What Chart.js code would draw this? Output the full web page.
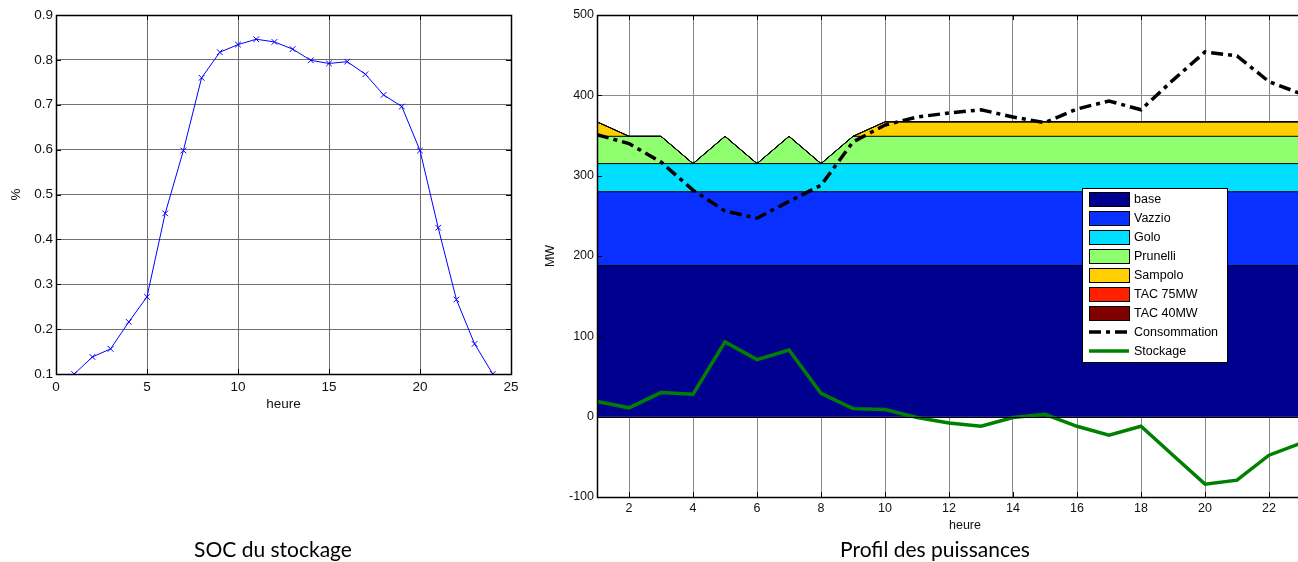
<!DOCTYPE html>
<html>
<head>
<meta charset="utf-8">
<script src="https://cdn.jsdelivr.net/npm/chart.js@4.4.1/dist/chart.umd.min.js"></script>
<style>
  body { margin: 0; width: 1298px; height: 562px; overflow: hidden; position: relative; background: #fff; }
  canvas { position: absolute; top: 0; }
  .titre { position: absolute; top: 536px; font-family: Lato, "Open Sans", sans-serif; font-size: 21px; color: #000; text-align: center; white-space: nowrap; }
</style>
</head>
<body>
<canvas id="soc" width="540" height="562" style="left:0"></canvas>
<canvas id="puiss" width="810" height="562" style="left:540px"></canvas>
<div class="titre" style="left:0; width:546px">SOC du stockage</div>
<div class="titre" style="left:735px; width:400px">Profil des puissances</div>
<script>
// heures de la journee
const heures = [1, 2, 3, 4, 5, 6, 7, 8, 9, 10, 11, 12, 13, 14, 15, 16, 17, 18, 19, 20, 21, 22, 23, 24];

// etat de charge du stockage (%)
const socValeurs = [0.100, 0.138, 0.156, 0.216, 0.272, 0.458, 0.598, 0.760, 0.817, 0.834, 0.846, 0.840, 0.824, 0.799, 0.792, 0.796, 0.768, 0.722, 0.696, 0.598, 0.426, 0.266, 0.167, 0.100];

// production empilee (MW)
const base     = [188, 188, 188, 188, 188, 188, 188, 188, 188, 188, 188, 188, 188, 188, 188, 188, 188, 188, 188, 188, 188, 188, 188, 188];
const vazzio   = [92, 92, 92, 92, 92, 92, 92, 92, 92, 92, 92, 92, 92, 92, 92, 92, 92, 92, 92, 92, 92, 92, 92, 92];
const golo     = [35, 35, 35, 35, 35, 35, 35, 35, 35, 35, 35, 35, 35, 35, 35, 35, 35, 35, 35, 35, 35, 35, 35, 35];
const prunelli = [34, 34, 34, 0, 34, 0, 34, 0, 34, 34, 34, 34, 34, 34, 34, 34, 34, 34, 34, 34, 34, 34, 34, 34];
const sampolo  = [18, 0, 0, 0, 0, 0, 0, 0, 0, 18, 18, 18, 18, 18, 18, 18, 18, 18, 18, 18, 18, 18, 18, 18];
const tac75    = [0, 0, 0, 0, 0, 0, 0, 0, 0, 0, 0, 0, 0, 0, 0, 0, 0, 0, 0, 0, 0, 0, 0, 0];
const tac40    = [0, 0, 0, 0, 0, 0, 0, 0, 0, 0, 0, 0, 0, 0, 0, 0, 0, 0, 0, 0, 0, 0, 0, 0];

const consommation = [351, 340, 317, 282, 256, 247, 268, 288, 342, 363, 373, 378, 382, 373, 366, 383, 393, 382, 419, 454, 449, 417, 402, 395];
const stockage     = [19, 11, 30, 28, 93, 71, 83, 29, 10, 9, -1, -8, -12, -1, 3, -12, -23, -12, -48, -84, -79, -48, -33, -25];

// ticks
const socTicksX = [0, 5, 10, 15, 20, 25];
const puissTicksX = [2, 4, 6, 8, 10, 12, 14, 16, 18, 20, 22, 24];

Chart.defaults.font.family = '"Liberation Sans", Arial, sans-serif';
Chart.defaults.color = '#000';

const pts = (vals) => heures.map((h, i) => ({ x: h, y: vals[i] }));

// cadre noir + petits ticks interieurs, facon matlab
const cadrePlugin = {
    id: 'cadre',
    afterDatasetsDraw(chart, args, opts) {
        const { ctx, chartArea: a, scales } = chart;
        ctx.save();
        ctx.strokeStyle = '#000';
        ctx.lineWidth = 1;
        ctx.beginPath();
        if (opts.zero) {
            const y0 = Math.round(scales.y.getPixelForValue(0)) + 0.5;
            ctx.moveTo(a.left, y0);
            ctx.lineTo(a.right, y0);
        }
        scales.x.ticks.forEach(t => {
            const x = Math.round(scales.x.getPixelForValue(t.value)) + 0.5;
            ctx.moveTo(x, a.bottom); ctx.lineTo(x, a.bottom - 5);
            ctx.moveTo(x, a.top); ctx.lineTo(x, a.top + 5);
        });
        scales.y.ticks.forEach(t => {
            const y = Math.round(scales.y.getPixelForValue(t.value)) + 0.5;
            ctx.moveTo(a.left, y); ctx.lineTo(a.left + 5, y);
            ctx.moveTo(a.right, y); ctx.lineTo(a.right - 5, y);
        });
        ctx.stroke();
        ctx.lineWidth = 1.5;
        ctx.strokeRect(Math.round(a.left) + 0.5, Math.round(a.top) + 0.5, Math.round(a.right - a.left), Math.round(a.bottom - a.top));
        ctx.restore();
    }
};

// legende dessinee dans le graphe
const legendePlugin = {
    id: 'legende',
    afterDraw(chart, args, opts) {
        if (!opts.display) return;
        const ctx = chart.ctx;
        const ds = chart.data.datasets;
        const h = opts.rowHeight * ds.length + 3;
        ctx.save();
        ctx.fillStyle = '#fff';
        ctx.fillRect(opts.x, opts.y, opts.width, h);
        ctx.strokeStyle = '#000';
        ctx.lineWidth = 1;
        ctx.strokeRect(opts.x + 0.5, opts.y + 0.5, opts.width, h);
        ctx.font = '12.5px "Liberation Sans", Arial, sans-serif';
        ctx.textBaseline = 'middle';
        ds.forEach((d, i) => {
            const cy = opts.y + 11 + i * opts.rowHeight;
            const sx = opts.x + 7;
            if (d.fill) {
                ctx.fillStyle = d.backgroundColor;
                ctx.fillRect(sx, cy - 7, 40, 14);
                ctx.strokeStyle = '#000';
                ctx.lineWidth = 1;
                ctx.strokeRect(sx + 0.5, cy - 6.5, 40, 14);
            } else {
                ctx.strokeStyle = d.borderColor;
                ctx.lineWidth = d.borderWidth;
                ctx.setLineDash(d.borderDash || []);
                ctx.beginPath();
                ctx.moveTo(sx, cy); ctx.lineTo(sx + 40, cy);
                ctx.stroke();
                ctx.setLineDash([]);
            }
            ctx.fillStyle = '#000';
            ctx.fillText(d.label, sx + 45, cy + 1);
        });
        ctx.restore();
    }
};

new Chart('soc', {
    type: 'line',
    data: {
        datasets: [{
            label: 'SOC',
            data: pts(socValeurs),
            borderColor: '#0000ff',
            borderWidth: 1,
            pointStyle: 'crossRot',
            pointRadius: 4,
            pointBorderColor: '#0000ff',
            pointBorderWidth: 1,
            tension: 0,
            fill: false
        }]
    },
    options: {
        responsive: false,
        animation: false,
        events: [],
        layout: { padding: { left: 0, top: 15, right: 29, bottom: 150 } },
        plugins: { legend: { display: false }, tooltip: { enabled: false }, cadre: {}, legende: { display: false } },
        scales: {
            x: {
                type: 'linear', min: 0, max: 25,
                afterBuildTicks: s => { s.ticks = socTicksX.map(v => ({ value: v })); },
                afterFit: s => { s.height = 38; },
                ticks: { padding: 5, font: { size: 13.5 }, color: '#111', maxRotation: 0, autoSkip: false },
                grid: { color: '#6e6e6e', drawTicks: false },
                border: { display: false },
                title: { display: true, text: 'heure', font: { size: 13.5 }, color: '#111', padding: 0 }
            },
            y: {
                min: 0.1, max: 0.9,
                afterFit: s => { s.width = 56; },
                ticks: { stepSize: 0.1, padding: 3, font: { size: 13.5 }, color: '#111' },
                grid: { color: '#6e6e6e', drawTicks: false },
                border: { display: false },
                title: { display: true, text: '%', font: { size: 13.5 }, color: '#111', padding: { top: 8, bottom: 0 } }
            }
        }
    },
    plugins: [cadrePlugin, legendePlugin]
});

const aire = (label, vals, couleur, fill) => ({
    label: label, data: pts(vals), stack: 'prod', order: 1,
    backgroundColor: couleur, borderColor: '#000', borderWidth: 1,
    fill: fill, pointRadius: 0, tension: 0
});

new Chart('puiss', {
    type: 'line',
    data: {
        datasets: [
            aire('base', base, '#00008f', 'origin'),
            aire('Vazzio', vazzio, '#0a30ff', '-1'),
            aire('Golo', golo, '#00dfff', '-1'),
            aire('Prunelli', prunelli, '#8fff70', '-1'),
            aire('Sampolo', sampolo, '#ffcf00', '-1'),
            aire('TAC 75MW', tac75, '#ff2000', '-1'),
            aire('TAC 40MW', tac40, '#800000', '-1'),
            {
                label: 'Consommation', data: pts(consommation), stack: 'cons', order: 0,
                borderColor: '#000', borderWidth: 3.5, borderDash: [12, 5, 4, 5],
                fill: false, pointRadius: 0, tension: 0
            },
            {
                label: 'Stockage', data: pts(stockage), stack: 'stock', order: 0,
                borderColor: '#008000', borderWidth: 3.5,
                fill: false, pointRadius: 0, tension: 0
            }
        ]
    },
    options: {
        responsive: false,
        animation: false,
        events: [],
        layout: { padding: { left: 0, top: 15, right: 17, bottom: 29 } },
        plugins: {
            legend: { display: false },
            tooltip: { enabled: false },
            filler: { drawTime: 'beforeDatasetsDraw' },
            cadre: { zero: true },
            legende: { display: true, x: 542, y: 188, width: 145, rowHeight: 19 }
        },
        scales: {
            x: {
                type: 'linear', min: 1, max: 24,
                afterBuildTicks: s => { s.ticks = puissTicksX.map(v => ({ value: v })); },
                afterFit: s => { s.height = 36; },
                ticks: { padding: 4, font: { size: 12.5 }, color: '#111', maxRotation: 0, autoSkip: false },
                grid: { color: '#8a8a8a', drawTicks: false },
                border: { display: false },
                title: { display: true, text: 'heure', font: { size: 12.5 }, color: '#111', padding: 0 }
            },
            y: {
                min: -100, max: 500, stacked: true,
                afterFit: s => { s.width = 57; },
                ticks: { stepSize: 100, padding: 3, font: { size: 12.5 }, color: '#111' },
                grid: { color: '#8a8a8a', drawTicks: false },
                border: { display: false },
                title: { display: true, text: 'MW', font: { size: 12.5 }, color: '#111', padding: { top: 3, bottom: 0 } }
            }
        }
    },
    plugins: [cadrePlugin, legendePlugin]
});
</script>
</body>
</html>
